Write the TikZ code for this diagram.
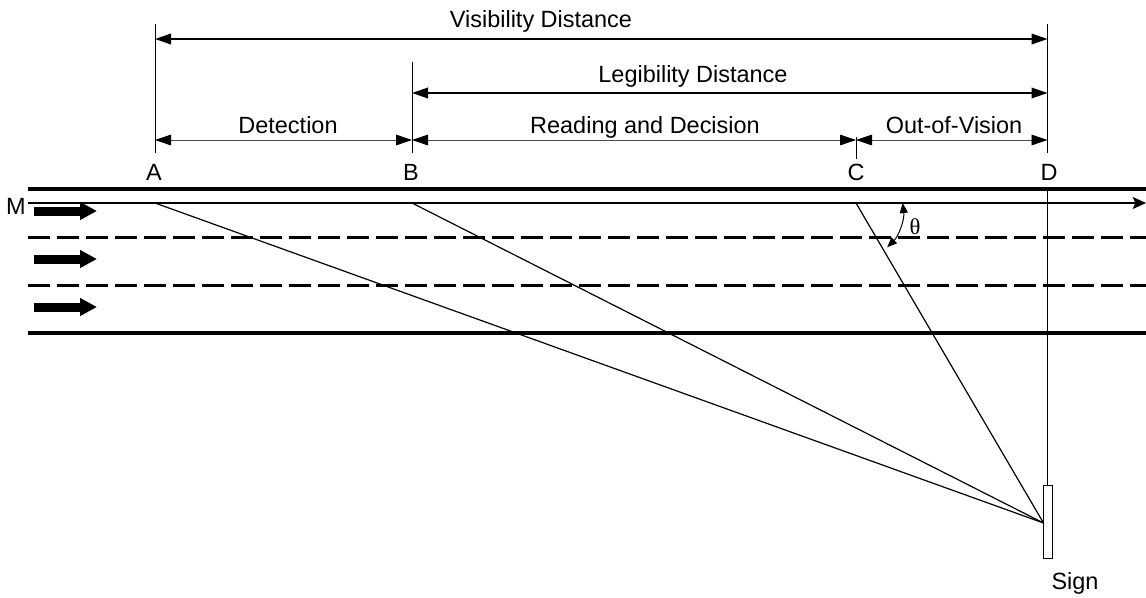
\documentclass[tikz,border=0pt]{standalone}
\usepackage{fontspec}
\setmainfont{Liberation Sans}
\newfontfamily\thetafont{Liberation Serif}
\usetikzlibrary{arrows.meta}
\tikzset{
  lbl/.style={anchor=base, inner sep=0pt, font=\fontsize{17.6}{20}\selectfont},
  dimbig/.style={line width=1.1pt, {Triangle[length=12pt,width=8pt]}-{Triangle[length=12pt,width=8pt]}},
  dimsmall/.style={line width=0.6pt, draw=black!70, {Triangle[length=12pt,width=8pt,black]}-{Triangle[length=12pt,width=8pt,black]}},
  ext/.style={line width=0.75pt},
  road/.style={line width=3pt},
  lane/.style={line width=2.25pt, dash pattern=on 16.5pt off 5.25pt},
  sight/.style={line width=0.9pt},
  flow/.style={line width=6.75pt, -{Triangle[length=12.75pt,width=12.75pt]}}
}
\begin{document}
\begin{tikzpicture}[x=0.75pt,y=-0.75pt]
\useasboundingbox (0,0) rectangle (1146,597);
% points on the driver's path
\coordinate (A) at (155,203);
\coordinate (B) at (412,203);
\coordinate (C) at (856,203);
\coordinate (D) at (1047.5,203);
\coordinate (Mstart) at (28,203);
\coordinate (Mend) at (1146,203);
% rows of the dimension lines
\coordinate (visrow) at (0,39);
\coordinate (legrow) at (0,93);
\coordinate (segrow) at (0,140);
% road
\draw[road] (28,189) -- (1146,189);
\draw[road] (28,333) -- (1146,333);
\draw[lane] (28,237) -- (1146,237);
\draw[lane] (28,285) -- (1146,285);
\foreach \y in {211,259,307}
  \draw[flow] (34,\y) -- (97,\y);
\draw[line width=0.9pt,-{Stealth[length=10pt,width=9pt,inset=2pt]}] (Mstart) -- (Mend);
\node[lbl] (Mlbl) at (16,214) {M};
% extension lines
\draw[ext] (A |- 0,24) -- (A |- 0,153);
\draw[ext] (B |- 0,62) -- (B |- 0,153);
\draw[ext] (C |- 0,137) -- (C |- 0,159);
\draw[ext] (D |- 0,24) -- (D |- 0,153);
% dimensions
\draw[dimbig] (A |- visrow) -- (D |- visrow);
\draw[dimbig] (B |- legrow) -- (D |- legrow);
\draw[dimsmall] (A |- segrow) -- (B |- segrow);
\draw[dimsmall] (B |- segrow) -- (C |- segrow);
\draw[dimsmall] (C |- segrow) -- (D |- segrow);
\node[lbl] (vis) at (541,27) {Visibility Distance};
\node[lbl] (leg) at (693,82) {Legibility Distance};
\node[lbl] (det) at (288,133) {Detection};
\node[lbl] (read) at (645,133) {Reading and Decision};
\node[lbl] (out) at (954,133) {Out-of-Vision};
\foreach \p/\x in {A/154,B/411,C/856,D/1049}
  \node[lbl] (lbl\p) at (\x,180) {\p};
% sign and lines of sight
\node[draw, line width=0.75pt, inner sep=0pt, minimum width=6.75pt, minimum height=54.75pt] (sign) at (1047.5,521.5) {};
\node[lbl] (signlbl) at (1075,589) {Sign};
\coordinate (E) at (1043.5,523);
\coordinate (Droad) at (1047.5,189);
\draw[ext] (Droad) -- (sign.north);
\foreach \p in {A,B,C}
  \draw[sight] (\p) -- (E);
% viewing angle
\coordinate (thc) at (850,209.5);
\draw[line width=0.75pt, {Triangle[length=7.5pt,width=6pt]}-{Triangle[length=7.5pt,width=6pt]}] ([shift={(-7:53)}]thc) arc[start angle=-7, end angle=45.5, radius=53];
\node[font=\thetafont\fontsize{17}{19}\selectfont, inner sep=0pt, anchor=base] (theta) at (915,234) {θ};
\end{tikzpicture}
\end{document}
